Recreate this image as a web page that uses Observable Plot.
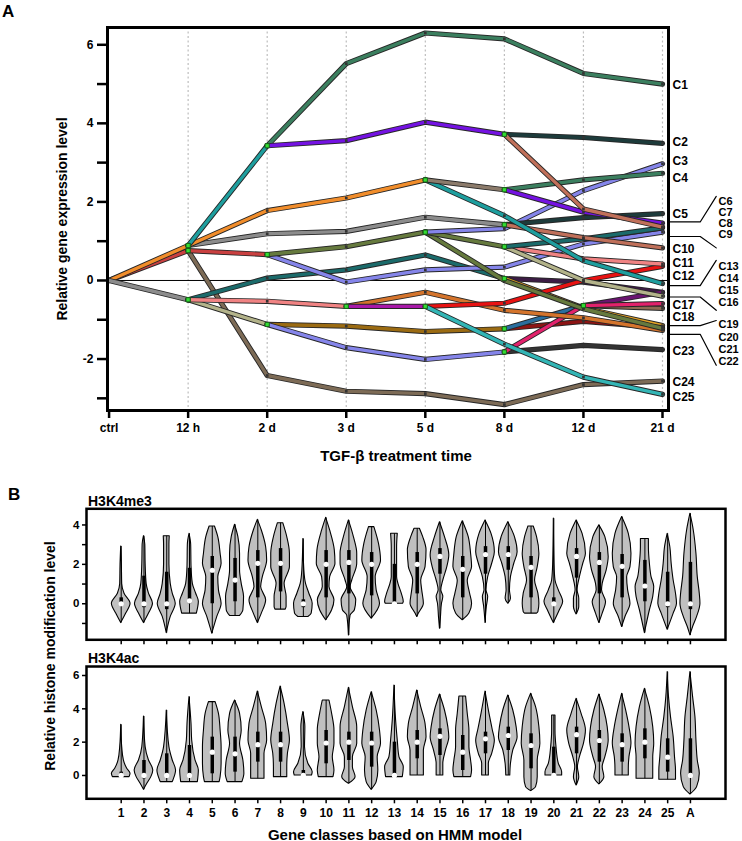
<!DOCTYPE html>
<html><head><meta charset="utf-8">
<script src="https://cdn.jsdelivr.net/npm/d3@7"></script>
<script src="https://cdn.jsdelivr.net/npm/@observablehq/plot@0.6"></script>
<style>
body{margin:0;background:#fff;font-family:"Liberation Sans",Arial,sans-serif;}
#fig{position:relative;width:742px;height:841px;overflow:hidden;background:#fff;}
.chart{position:absolute;left:0;}
.lbl{position:absolute;font-weight:bold;color:#000;white-space:nowrap;line-height:1;}
.rot{transform:translate(-50%,-50%) rotate(-90deg);}
.ctr{transform:translate(-50%,-50%);}
</style></head><body><div id="fig"></div>
<script>
const FONT = '"Liberation Sans", Arial, sans-serif';

// ---------- Panel A data ----------
const times = ["ctrl", "12 h", "2 d", "3 d", "5 d", "8 d", "12 d", "21 d"];

const ORANGE="#f18d2b", RED="#c94040", GRAY="#8c8c8c", TEAL="#1e9e9e", SEA="#3b7f5f",
      PURPLE="#7412e2", SLATE="#1d3b3b", SALBR="#c0705a", TAUPE="#8c7b6b", LAV="#8585ea",
      OLIVE="#667a3e", DTEAL="#1b6b6b", PINK="#f08383", KHAKI="#b3b38a", DPURP="#3c1c44",
      GOLD="#e0a024", ORBR="#d4742c", MAG="#a818a8", BRED="#e81212", CYAN="#33b5b5",
      DGOLD="#9b6b12", DRED="#8c1414", STEEL="#2a6e9e", DGRAY="#333333", HPINK="#e2226c",
      BROWN="#7d6b56", PLUM="#6a1470", BRN2="#8d6a52";

// tree branches of the HMM model: start time index, values at successive times, colour
const branchStart = [0,0,0, 1,1,5,5, 1,2,5,5,6,6, 2,5,5, 1,3,3,4,4, 1,2,2,4,4,5,5,5,4, 1,5,5, 1,4,4,5,5, 1,2,2,5,5];
const branchValues = [
  [0, 0.76], [0, 0.89], [0, -0.49],
  [0.76, -2.42, -2.82, -2.88, -3.16, -2.65, -2.56],
  [-0.49, 0.06, 0.27, 0.65, 0.05],
  [0.05, -0.04, -0.30],
  [0.05, -0.70, -1.15],
  [-0.49, -1.12],
  [-1.12, -1.16, -1.30, -1.23],
  [-1.23, -1.04, -1.20],
  [-1.23, -0.64],
  [-0.64, -0.30],
  [-0.64, -0.71],
  [-1.12, -1.71, -2.01, -1.82],
  [-1.82, -1.65, -1.76],
  [-1.82, -0.64, -0.59],
  [-0.49, -0.53, -0.66],
  [-0.66, -0.30, -0.76, -0.95, -1.27],
  [-0.66, -0.66],
  [-0.66, -0.58, 0.0, 0.36],
  [-0.66, -1.62, -2.46, -2.90],
  [0.76, 0.66],
  [0.66, -0.04, 0.27, 0.34, 0.93, 1.23],
  [0.66, 0.86, 1.23],
  [1.23, 0.0, -0.72, -1.22],
  [1.23, 0.86],
  [0.86, 0.55, 0.42],
  [0.86, 0.0, -0.40],
  [0.86, 1.06, 1.34],
  [1.23, 1.32, 2.29, 2.97],
  [0.89, 1.19, 1.25, 1.61, 1.42],
  [1.42, 1.60, 1.70],
  [1.42, 1.09, 0.83],
  [0.89, 1.78, 2.10, 2.56],
  [2.56, 1.65, 0.50, -0.08],
  [2.56, 2.31],
  [2.31, 2.56, 2.73],
  [2.31, 1.74, 1.46],
  [0.89, 3.43],
  [3.43, 5.52, 6.30, 6.15, 5.27, 5.00],
  [3.43, 3.56, 4.03, 3.72],
  [3.72, 3.64, 3.49],
  [3.72, 1.82, 1.36]
];
const branchColors = [RED, ORANGE, GRAY, BROWN, DTEAL, DPURP, GOLD, KHAKI, DGOLD, DRED, STEEL, PLUM, BRN2,
  LAV, DGRAY, HPINK, PINK, ORBR, MAG, BRED, CYAN, RED, LAV, OLIVE, OLIVE, OLIVE, PINK, KHAKI, DTEAL, LAV,
  GRAY, SLATE, SALBR, ORANGE, TEAL, TAUPE, SEA, PURPLE, TEAL, SEA, PURPLE, SLATE, SALBR];

// class labels at the right (label position in data units, column 0 or 1)
const labelNames = ["C1","C2","C3","C4","C5","C10","C11","C12","C17","C18","C23","C24","C25",
                    "C6","C7","C8","C9","C13","C14","C15","C16","C19","C20","C21","C22"];
const labelY = [4.96,3.52,3.03,2.60,1.70,0.81,0.44,0.10,-0.62,-0.94,-1.81,-2.60,-2.97,
                2.02,1.74,1.46,1.18,0.36,0.05,-0.26,-0.57,-1.13,-1.44,-1.75,-2.06];
const labelCol = [0,0,0,0,0,0,0,0,0,0,0,0,0, 1,1,1,1,1,1,1,1,1,1,1,1];
// brackets grouping the stacked labels: [value at frame, value at label column]
const bracketEnds = [[1.49, 2.14], [1.12, 0.83], [-0.13, 0.51], [-0.42, -0.76], [-1.15, -1.02], [-1.37, -2.16]];

// ---------- Panel B data ----------
const classNames = ["1","2","3","4","5","6","7","8","9","10","11","12","13","14","15","16","17","18","19","20","21","22","23","24","25","A"];
// violin profiles: [value, relative width]
const me3Profiles = [
  [[2.91,0],[2.0,2],[1.0,3],[0.51,10],[0.0,28],[-0.5,15],[-0.98,0]],
  [[3.43,0],[3.0,4],[2.0,5],[1.01,8],[0.51,15],[0.0,27],[-0.5,15],[-0.98,0]],
  [[3.43,9],[3.0,8],[2.0,8],[1.01,12],[0.51,18],[0.0,27],[-0.67,12],[-1.49,0]],
  [[3.55,0],[3.0,5],[1.9,6],[1.01,10],[0.51,20],[0.1,28],[-0.5,22]],
  [[3.92,8],[3.38,18],[2.54,25],[2.03,28],[1.35,18],[0.68,20],[0.0,28],[-0.67,15],[-1.52,0]],
  [[4.01,0],[3.38,10],[2.54,15],[1.69,15],[1.01,20],[0.35,27],[-0.33,25],[-0.62,15]],
  [[4.26,0],[3.72,12],[2.87,25],[2.20,28],[1.35,15],[0.85,10],[0.18,25],[-0.5,12],[-0.98,0]],
  [[4.09,8],[3.38,20],[2.54,28],[1.86,28],[1.01,12],[0.35,18],[-0.16,18],[-0.30,15]],
  [[3.29,0],[1.69,3],[1.01,8],[0.51,18],[0.0,28],[-0.5,25],[-0.67,15]],
  [[4.36,0],[3.72,12],[2.71,26],[2.03,28],[1.35,12],[0.85,10],[0.18,25],[-0.33,18],[-0.84,0]],
  [[4.23,0],[3.38,15],[2.54,25],[2.03,25],[1.18,10],[0.85,5],[0.18,22],[-0.33,18],[-0.6,5],[-1.61,0]],
  [[3.89,8],[3.04,22],[2.20,28],[1.35,12],[0.68,15],[0.0,25],[-0.76,0]],
  [[3.55,10],[2.87,8],[1.35,8],[1.01,12],[0.51,22],[0.09,28],[0.0,26]],
  [[3.81,8],[3.38,18],[2.71,28],[1.86,25],[1.18,12],[0.68,15],[0.0,20],[-0.5,5],[-0.67,0]],
  [[4.14,0],[3.38,15],[2.46,28],[1.86,22],[1.18,10],[0.68,4],[0.35,10],[0.0,6],[-0.67,3],[-1.27,0]],
  [[4.19,0],[3.38,18],[2.54,25],[1.86,28],[1.18,15],[0.51,22],[0.0,28],[-0.5,20],[-0.84,0]],
  [[4.23,0],[3.55,18],[2.62,28],[2.03,20],[1.35,8],[0.68,3],[0.35,8],[-0.16,4],[-0.98,0]],
  [[4.14,0],[3.38,20],[2.62,28],[2.03,18],[1.35,8],[0.68,5],[0.26,8],[0.0,0]],
  [[3.92,8],[3.38,18],[2.54,25],[1.86,20],[1.18,12],[0.51,22],[0.0,25],[-0.42,22],[-0.5,18]],
  [[4.32,0],[2.0,2],[1.18,5],[0.68,15],[0.09,28],[-0.33,18],[-0.98,0]],
  [[4.23,0],[3.55,18],[2.54,28],[2.03,20],[1.35,10],[0.68,3],[0.26,8],[-0.16,8],[-0.54,0]],
  [[3.98,0],[3.38,18],[2.37,28],[1.69,22],[1.01,10],[0.68,8],[0.09,20],[-0.5,10],[-0.98,0]],
  [[4.40,0],[3.55,20],[2.54,28],[1.86,25],[1.35,15],[0.68,18],[0.0,25],[-0.67,10],[-1.18,0]],
  [[3.29,12],[2.87,12],[2.03,15],[1.35,20],[0.85,28],[0.35,25],[-0.33,15],[-1.49,0]],
  [[3.55,0],[2.87,8],[2.03,12],[1.18,18],[0.51,25],[0.0,28],[-0.5,18],[-1.32,0]],
  [[4.57,0],[3.72,10],[2.54,18],[1.35,22],[0.51,28],[0.0,30],[-0.67,20],[-1.18,8],[-1.61,0]]
];
const me3Median = [0,0,0,0.15,1.7,1.2,2.05,2.05,0,2.0,2.1,2.0,0,2.0,2.4,1.75,2.5,2.5,1.85,0,2.4,2.1,1.9,0.9,0,0];
const me3Q1 = [-0.1,-0.2,-0.3,0,0,0.1,0.3,0.6,-0.2,0.3,0.5,0.4,0,0.5,1.5,0.3,1.5,1.7,0.3,-0.1,1.3,0.5,0.3,0.1,-0.2,-0.3];
const me3Q3 = [0.3,1.4,1.6,1.8,2.4,2.3,2.7,2.8,0.2,2.7,2.7,2.6,2.0,2.6,2.8,2.4,2.9,2.9,2.4,0.3,2.8,2.6,2.5,2.2,1.6,2.1];

const acProfiles = [
  [[3.04,0],[1.7,3],[0.9,8],[0.4,18],[0.1,28],[-0.1,25]],
  [[3.54,0],[1.7,5],[0.9,15],[0.3,28],[-0.1,22],[-0.5,10],[-0.86,0]],
  [[3.9,0],[1.7,8],[0.9,18],[0.3,28],[-0.3,20],[-0.4,18]],
  [[4.7,0],[3.1,6],[2.1,8],[0.9,18],[0.3,28],[-0.4,25]],
  [[4.4,10],[3.7,20],[2.7,25],[1.7,28],[0.7,28],[-0.1,25],[-0.4,22]],
  [[4.5,0],[3.7,15],[2.7,20],[1.9,15],[0.9,25],[0.1,28],[-0.4,22]],
  [[5.04,0],[4.1,12],[3.1,25],[2.1,28],[1.3,20],[0.5,20],[-0.2,20]],
  [[5.34,0],[4.3,12],[3.1,22],[2.1,28],[1.3,22],[0.5,20],[-0.1,20]],
  [[3.8,0],[2.9,6],[1.7,5],[0.7,15],[0.2,28],[0,26]],
  [[4.5,10],[3.7,18],[2.7,25],[1.9,25],[1.1,20],[0.3,25],[-0.1,22]],
  [[5.26,0],[4.1,12],[2.9,25],[1.9,25],[1.1,12],[0.5,12],[-0.1,20],[-0.5,0]],
  [[5.0,0],[3.9,15],[2.7,25],[1.9,28],[1.1,18],[0.3,20],[-0.4,15],[-0.86,0]],
  [[5.4,0],[3.3,5],[2.1,10],[1.1,15],[0.5,28],[-0.1,25]],
  [[5.1,0],[4.1,12],[3.1,25],[2.3,28],[1.5,20],[0.7,20],[0,20]],
  [[4.86,0],[3.9,15],[2.9,25],[2.3,28],[1.5,18],[0.7,10],[0,10]],
  [[4.74,10],[3.7,15],[2.7,20],[1.7,20],[0.9,25],[0.3,28],[-0.1,25]],
  [[5.04,0],[3.7,12],[2.7,22],[2.1,28],[1.3,20],[0.7,10],[0,10]],
  [[4.8,0],[3.9,15],[2.9,25],[2.3,28],[1.5,15],[0.7,8],[0,6]],
  [[4.9,0],[4.1,15],[2.9,25],[1.9,28],[0.9,20],[-0.1,20],[-0.7,15],[-0.94,0]],
  [[3.6,5],[2.7,5],[1.7,8],[0.7,15],[0.2,25],[0,25]],
  [[4.6,0],[3.7,15],[2.7,28],[1.9,22],[1.1,10],[0.5,4],[-0.1,8],[-0.6,0]],
  [[4.86,0],[3.9,15],[2.9,25],[2.1,28],[1.1,18],[0.5,10],[-0.1,15],[-0.54,0]],
  [[4.9,0],[3.9,12],[2.9,22],[1.9,28],[1.1,22],[0.4,20],[0,20]],
  [[5.2,0],[4.1,15],[2.9,25],[1.9,28],[1.1,25],[0.3,25],[-0.2,25]],
  [[6.2,0],[4.7,4],[3.5,10],[2.3,18],[1.1,22],[0.3,25],[-0.26,25]],
  [[6.2,0],[4.7,8],[3.5,15],[2.1,18],[0.9,22],[0.1,28],[-0.7,20],[-1.14,0]]
];
const acMedian = [0,0,0,0,1.4,1.3,1.85,1.85,0,1.95,2.0,1.95,0,2.0,2.35,1.4,2.2,2.4,1.8,0,2.45,2.1,1.85,2.0,1.1,0];
const acQ1 = [-0.05,-0.2,-0.1,-0.1,0.1,0.2,0.8,0.8,0,0.7,0.9,0.5,0,1.0,1.2,0.3,1.3,1.5,0.4,0,1.3,0.8,0.8,1.0,0.2,-0.1];
const acQ3 = [0.2,0.9,1.3,1.8,2.3,2.3,2.6,2.6,0.3,2.7,2.6,2.6,2.0,2.7,2.8,2.4,2.6,2.9,2.5,1.7,2.9,2.7,2.5,2.8,2.2,2.2];

// ---------- build panel A ----------
const fig = document.getElementById("fig");
function addLabel(text, css, cls) {
  const d = document.createElement("div");
  d.className = "lbl " + (cls || "");
  d.textContent = text;
  Object.assign(d.style, css);
  fig.appendChild(d);
}
function place(svg, top) {
  svg.classList.add("chart");
  svg.style.top = top + "px";
  fig.appendChild(svg);
}

const lineRows = [], vertices = [], nodes = [];
branchValues.forEach((vals, bi) => {
  const s = branchStart[bi];
  vals.forEach((v, i) => lineRows.push({series: bi * 2, t: s + i, v, stroke: "#262626", sw: 5.2}));
  vals.forEach((v, i) => lineRows.push({series: bi * 2 + 1, t: s + i, v, stroke: branchColors[bi], sw: 3.4}));
  vals.forEach((v, i) => { if (i > 0) vertices.push({t: s + i, v}); });
  if (s > 0) nodes.push({t: s, v: vals[0]});
});
const labelRows = labelNames.map((n, i) => ({name: n, y: labelY[i], col: labelCol[i], x: 7}));
const bracketRows = [];
bracketEnds.forEach(([a, b], i) => {
  bracketRows.push({z: i, x: 7.076, y: a}, {z: i, x: 7.477, y: a}, {z: i, x: 7.68, y: b});
});

const chartA = Plot.plot({
  width: 742, height: 470,
  marginTop: 27, marginBottom: 60, marginLeft: 107, marginRight: 74,
  style: {fontFamily: FONT, background: "transparent", overflow: "visible", color: "#000"},
  x: {type: "linear", domain: [-0.02, 7.076]},
  y: {domain: [-3.31, 6.44]},
  color: {type: "identity"},
  marks: [
    Plot.ruleX(d3.range(1, 8), {stroke: "#bdbdbd", strokeDasharray: "2,2.5", strokeWidth: 1.2}),
    Plot.ruleY([0], {stroke: "#000", strokeWidth: 1}),
    Plot.line(lineRows, {x: "t", y: "v", z: "series", stroke: "stroke", strokeWidth: "sw",
      strokeLinejoin: "round", strokeLinecap: "round"}),
    Plot.dot(vertices, {x: "t", y: "v", symbol: "square", r: 1.5, fill: "#333"}),
    Plot.dot(nodes, {x: "t", y: "v", symbol: "square", r: 2.3, fill: "#33dd33", stroke: "#145014", strokeWidth: 0.7}),
    Plot.line(bracketRows, {x: "x", y: "y", z: "z", stroke: "#000", strokeWidth: 1.2}),
    Plot.text(labelRows.filter(d => d.col === 0), {x: "x", y: "y", text: "name", dx: 10, textAnchor: "start",
      fontSize: 12, fontWeight: "bold", fill: "#000"}),
    Plot.text(labelRows.filter(d => d.col === 1), {x: "x", y: "y", text: "name", dx: 56, textAnchor: "start",
      fontSize: 11, fontWeight: "bold", fill: "#000"}),
    Plot.frame({stroke: "#000", strokeWidth: 3}),
    Plot.axisX({ticks: d3.range(8), tickFormat: i => times[i], tickSize: 8, tickPadding: 5,
      strokeWidth: 2.5, fontSize: 12, fontWeight: "bold", label: null}),
    Plot.axisY({ticks: d3.range(-3, 7), tickFormat: d => (d % 2 === 0 ? String(d) : ""), tickSize: 10,
      tickPadding: 4, strokeWidth: 2.5, fontSize: 12, fontWeight: "bold", label: null})
  ]
});
place(chartA, 0);

// ---------- build panel B ----------
function violinPanel(profiles, medians, q1, q3, yDomain, yTicks, showX, height, mt, mb) {
  const areaRows = [], whisk = [], box = [], med = [];
  profiles.forEach((prof, i) => {
    const k = i + 1;
    const sorted = prof.slice().sort((a, b) => a[0] - b[0]);
    sorted.forEach(([v, w]) => areaRows.push({k, v, x1: k - w / 68.3, x2: k + w / 68.3}));
    whisk.push({k, lo: sorted[0][0], hi: sorted[sorted.length - 1][0]});
    box.push({k, lo: q1[i], hi: q3[i]});
    med.push({k, v: medians[i]});
  });
  return Plot.plot({
    width: 742, height,
    marginTop: mt, marginBottom: mb, marginLeft: 86, marginRight: 17,
    style: {fontFamily: FONT, background: "transparent", overflow: "visible", color: "#000"},
    x: {type: "linear", domain: [-0.524, 27.54]},
    y: {domain: yDomain},
    marks: [
      Plot.areaX(areaRows, {y: "v", x1: "x1", x2: "x2", z: "k", fill: "#c0c0c0", stroke: "#000",
        strokeWidth: 1.1, curve: "monotone-y"}),
      Plot.ruleX(whisk, {x: "k", y1: "lo", y2: "hi", stroke: "#000", strokeWidth: 1}),
      Plot.ruleX(box, {x: "k", y1: "lo", y2: "hi", stroke: "#000", strokeWidth: 3.5}),
      Plot.dot(med, {x: "k", y: "v", r: 2.6, fill: "#fff"}),
      Plot.frame({stroke: "#000", strokeWidth: 2.5}),
      Plot.axisX({ticks: d3.range(1, 27), tickFormat: k => (showX ? classNames[k - 1] : ""), tickSize: 5,
        tickPadding: 5, strokeWidth: 1.5, fontSize: 12, fontWeight: "bold", label: null}),
      Plot.axisY({ticks: yTicks, tickFormat: d => (d % 2 === 0 ? String(d) : ""), tickSize: 4,
        tickPadding: 3, strokeWidth: 1.5, fontSize: 11.5, fontWeight: "bold", label: null})
    ]
  });
}
place(violinPanel(me3Profiles, me3Median, me3Q1, me3Q3, [-1.83, 4.82], [-1, 0, 1, 2, 3, 4], false, 170, 28.3, 10.7), 480);
place(violinPanel(acProfiles, acMedian, acQ1, acQ3, [-1.40, 6.54], [0, 2, 4, 6], true, 191, 16, 42.7), 650);

// ---------- text ----------
addLabel("A", {left: "2px", top: "3px", fontSize: "17px"});
addLabel("B", {left: "8px", top: "486px", fontSize: "17px"});
addLabel("Relative gene expression level", {left: "62px", top: "219px", fontSize: "14px"}, "rot");
addLabel("TGF-\u03B2 treatment time", {left: "396px", top: "455px", fontSize: "15px"}, "ctr");
addLabel("H3K4me3", {left: "88px", top: "494px", fontSize: "14px"});
addLabel("H3K4ac", {left: "88px", top: "651px", fontSize: "14px"});
addLabel("Relative histone modification level", {left: "50px", top: "656px", fontSize: "14px"}, "rot");
addLabel("Gene classes based on HMM model", {left: "395px", top: "834px", fontSize: "15px"}, "ctr");
</script></body></html>
